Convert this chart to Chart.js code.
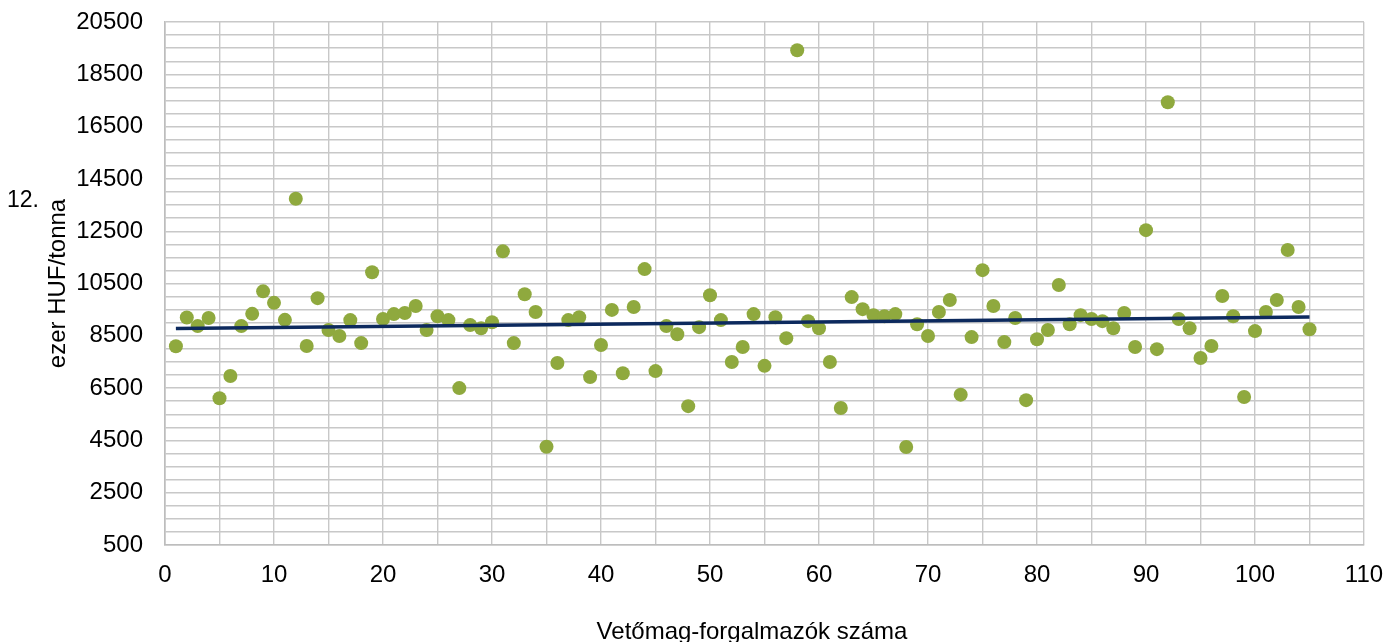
<!DOCTYPE html>
<html>
<head>
<meta charset="utf-8">
<script src="https://cdn.jsdelivr.net/npm/chart.js@4/dist/chart.umd.min.js"></script>
<style>
  html, body { margin: 0; padding: 0; background: #ffffff; }
  #wrap { width: 1387px; height: 642px; position: relative; }
</style>
</head>
<body>
<div id="wrap"><canvas id="c" width="1387" height="642"></canvas></div>
<script>
// Supplier numbers (x) and prices in ezer HUF/tonna (y)
const supplierNo = [
  1,2,3,4,5,6,7,8,9,10,11,12,13,14,15,16,17,18,19,20,
  21,22,23,24,25,26,27,28,29,30,31,32,33,34,35,36,37,38,39,40,
  41,42,43,44,45,46,47,48,49,50,51,52,53,54,55,56,57,58,59,60,
  61,62,63,64,65,66,67,68,69,70,71,72,73,74,75,76,77,78,79,80,
  81,82,83,84,85,86,87,88,89,90,91,92,93,94,95,96,97,98,99,100,
  101,102,103,104,105
];
const prices = [
  8100, 9200, 8870, 9180, 6110, 6960, 8870, 9340, 10200, 9760,
  9110, 13740, 8110, 9940, 8720, 8490, 9100, 8220, 10930, 9140,
  9330, 9370, 9640, 8720, 9250, 9100, 6500, 8910, 8790, 9020,
  11730, 8220, 10090, 9410, 4260, 7460, 9100, 9210, 6920, 8150,
  9490, 7070, 9600, 11050, 7150, 8870, 8560, 5810, 8830, 10050,
  9100, 7500, 8070, 9330, 7350, 9210, 8410, 19420, 9060, 8790,
  7500, 5740, 9980, 9520, 9290, 9250, 9330, 4250, 8940, 8490,
  9410, 9870, 6250, 8450, 11010, 9640, 8260, 9180, 6040, 8370,
  8720, 10440, 8940, 9290, 9140, 9060, 8790, 9370, 8070, 12540,
  7990, 17430, 9140, 8790, 7650, 8110, 10020, 9250, 6160, 8680,
  9410, 9870, 11780, 9600, 8750
];
// Linear trend line end points
const trendX = [1, 105];
const trendY = [8780, 9220];
// Axis settings
const xTickLabels = [0, 10, 20, 30, 40, 50, 60, 70, 80, 90, 100, 110];
const yTickLabels = [500, 2500, 4500, 6500, 8500, 10500, 12500, 14500, 16500, 18500, 20500];
const yTitle = 'ezer HUF/tonna';
const xTitle = 'Vetőmag-forgalmazók száma';
const sideNote = '12.';

const FONT = "'Liberation Sans', Arial, sans-serif";
const TEXT = '#000000';
const GRID = '#c8c8c8';

const textPlugin = {
  id: 'extraText',
  afterDraw(chart) {
    const ctx = chart.ctx;
    ctx.save();
    ctx.fillStyle = TEXT;
    ctx.font = "23px " + FONT;
    ctx.textAlign = 'left';
    ctx.textBaseline = 'middle';
    ctx.fillText(sideNote, 7, 201);
    ctx.font = "24px " + FONT;
    ctx.textAlign = 'center';
    ctx.textBaseline = 'alphabetic';
    ctx.fillText(xTitle, 752, 639);
    ctx.restore();
  }
};

new Chart(document.getElementById('c'), {
  data: {
    datasets: [
      {
        type: 'line',
        label: 'Trend',
        data: trendX.map((x, i) => ({ x: x, y: trendY[i] })),
        borderColor: '#0d2a5e',
        borderWidth: 3.4,
        pointRadius: 0,
        fill: false,
        order: 0
      },
      {
        type: 'scatter',
        label: 'Ár',
        data: supplierNo.map((x, i) => ({ x: x, y: prices[i] })),
        backgroundColor: '#8fa93e',
        borderColor: '#8fa93e',
        borderWidth: 0,
        pointRadius: 7,
        pointHoverRadius: 7,
        order: 1
      }
    ]
  },
  options: {
    responsive: false,
    animation: false,
    events: [],
    layout: { padding: { top: 22, right: 23, bottom: 0, left: 0 } },
    plugins: {
      legend: { display: false },
      tooltip: { enabled: false }
    },
    scales: {
      x: {
        type: 'linear',
        min: 0,
        max: 110,
        border: { display: true, color: '#bdbdbd', width: 1.6 },
        grid: { color: GRID, lineWidth: 1.4, drawTicks: false },
        ticks: {
          stepSize: 5,
          autoSkip: false,
          maxRotation: 0,
          padding: 16,
          color: TEXT,
          font: { family: FONT, size: 24 },
          callback: (v) => (xTickLabels.includes(v) ? String(v) : '')
        },
        title: { display: false },
        afterFit: (scale) => {
          scale.height = 97;
          scale.paddingLeft = 0;
          scale.paddingRight = 0;
        }
      },
      y: {
        type: 'linear',
        min: 500,
        max: 20500,
        border: { display: true, color: '#bdbdbd', width: 1.6 },
        grid: { color: GRID, lineWidth: 1.4, drawTicks: false },
        ticks: {
          stepSize: 500,
          autoSkip: false,
          padding: 22,
          color: TEXT,
          font: { family: FONT, size: 24 },
          callback: (v) => (yTickLabels.includes(v) ? String(v) : '')
        },
        title: {
          display: true,
          text: yTitle,
          color: TEXT,
          font: { family: FONT, size: 24, lineHeight: 1 },
          padding: { top: 46, bottom: 0 }
        },
        afterFit: (scale) => {
          scale.width = 165;
          scale.paddingTop = 0;
          scale.paddingBottom = 0;
        }
      }
    }
  },
  plugins: [textPlugin]
});
</script>
</body>
</html>
